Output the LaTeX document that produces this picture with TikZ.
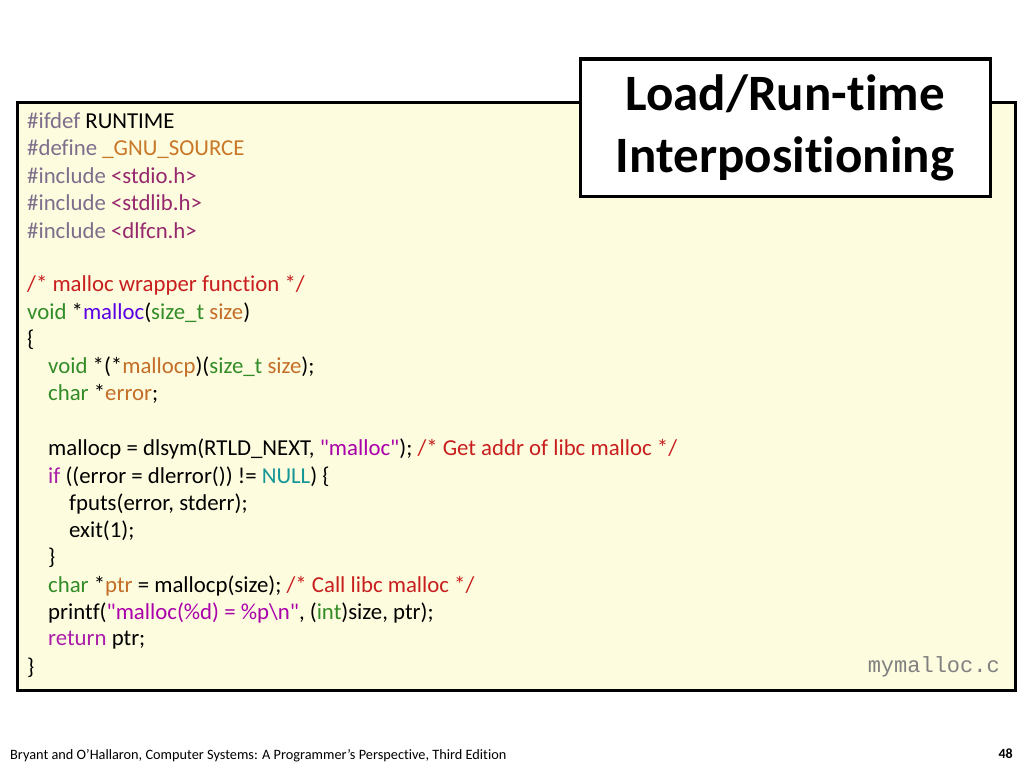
\documentclass[tikz,border=0pt]{standalone}
\usepackage{fontspec}
\setmainfont[Ligatures={NoCommon}]{Carlito}
\newfontfamily\plainq{Carlito}
\setmonofont{Liberation Mono}
\definecolor{ppgray}{RGB}{125,110,140}
\definecolor{macroorg}{RGB}{200,120,40}
\definecolor{hdrpurp}{RGB}{150,40,110}
\definecolor{cmtred}{RGB}{200,30,30}
\definecolor{typegrn}{RGB}{50,140,40}
\definecolor{fnblue}{RGB}{90,0,230}
\definecolor{varorg}{RGB}{195,110,40}
\definecolor{nullteal}{RGB}{20,150,150}
\definecolor{strmag}{RGB}{170,0,170}
\definecolor{kwpurp}{RGB}{170,30,170}
\definecolor{codebg}{RGB}{253,252,222}
\newcommand{\pp}[1]{\textcolor{ppgray}{#1}}
\newcommand{\cm}[1]{\textcolor{cmtred}{#1}}
\newcommand{\ty}[1]{\textcolor{typegrn}{#1}}
\newcommand{\vr}[1]{\textcolor{varorg}{#1}}
\newcommand{\q}{{\plainq\symbol{34}}}
\tikzset{
  codeline/.style={anchor=west, inner sep=0pt, font=\fontsize{22.8}{26}\selectfont},
  codebox/.style={draw=black, line width=3pt, fill=codebg},
  titlebox/.style={draw=black, line width=3pt, fill=white, align=center,
    font=\fontsize{51}{62}\selectfont\bfseries}
}
\begin{document}
\begin{tikzpicture}[x=1pt,y=-1pt]
\useasboundingbox (0,0) rectangle (1024,768);
\draw[codebox] (17,102) rectangle (1015,690);
\node[codeline] (l1) at (27,121) {\pp{\#ifdef} RUNTIME};
\node[codeline] (l2) at (27,149) {\pp{\#define} \textcolor{macroorg}{\_GNU\_SOURCE}};
\node[codeline] (l3) at (27,176) {\pp{\#include} \textcolor{hdrpurp}{<stdio.h>}};
\node[codeline] (l4) at (27,203) {\pp{\#include} \textcolor{hdrpurp}{<stdlib.h>}};
\node[codeline] (l5) at (27,231) {\pp{\#include} \textcolor{hdrpurp}{<dlfcn.h>}};
\node[codeline] (l6) at (27,285) {\cm{/* malloc wrapper function */}};
\node[codeline] (l7) at (27,313) {\ty{void} *\textcolor{fnblue}{malloc}(\ty{size\_t} \vr{size})};
\node[codeline] (l8) at (27,340) {\{};
\node[codeline] (l9) at (48,367) {\ty{void} *(*\vr{mallocp})(\ty{size\_t} \vr{size});};
\node[codeline] (l10) at (48,394) {\ty{char} *\vr{error};};
\node[codeline] (l11) at (48,449) {mallocp = dlsym(RTLD\_NEXT, \textcolor{strmag}{\q malloc\q}); \cm{/* Get addr of libc malloc */}};
\node[codeline] (l12) at (48,477) {\textcolor{kwpurp}{if} ((error = dlerror()) != \textcolor{nullteal}{NULL}) \{};
\node[codeline] (l13) at (69,504) {fputs(error, stderr);};
\node[codeline] (l14) at (69,531) {exit(1);};
\node[codeline] (l15) at (48,558) {\}};
\node[codeline] (l16) at (48,586) {\ty{char} *\vr{ptr} = mallocp(size); \cm{/* Call libc malloc */}};
\node[codeline] (l17) at (48,613) {printf(\textcolor{strmag}{\q malloc(\%d) = \%p\textbackslash n\q}, (\ty{int})size, ptr);};
\node[codeline] (l18) at (48,640) {\textcolor{kwpurp}{return} ptr;};
\node[codeline] (l19) at (27,668) {\}};
\node[anchor=east, inner sep=0pt, text=gray, font=\ttfamily\fontsize{22}{26}\selectfont] (fname) at (1000,667) {mymalloc.c};
\node[titlebox, minimum width=410pt, minimum height=137pt] (title) at (785,127.5) {Load/Run-time\\Interpositioning};
\node[anchor=west, inner sep=0pt, font=\fontsize{14.3}{17}\selectfont] (foot) at (10,756) {Bryant and O’Hallaron, Computer Systems: A Programmer’s Perspective, Third Edition};
\node[anchor=east, inner sep=0pt, font=\fontsize{14}{17}\selectfont\bfseries] (page) at (1013,754) {48};
\end{tikzpicture}
\end{document}
